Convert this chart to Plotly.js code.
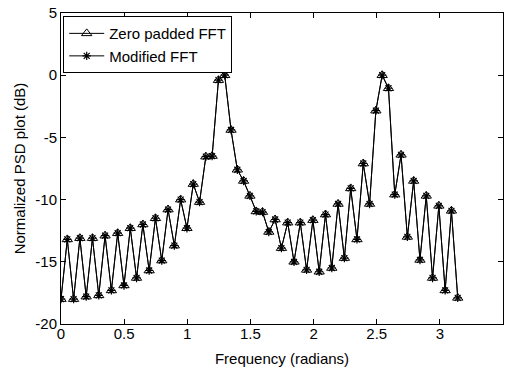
<!DOCTYPE html>
<html>
<head>
<meta charset="utf-8">
<script src="https://cdn.plot.ly/plotly-3.0.1.min.js"></script>
<style>html,body{margin:0;padding:0;background:#fff;}#chart{width:510px;height:373px;}</style>
</head>
<body>
<div id="chart"></div>
<script>
const frequency = [0, 0.0499, 0.0997, 0.1496, 0.1995, 0.2493, 0.2992, 0.3491, 0.3989, 0.4488,
  0.4987, 0.5485, 0.5984, 0.6483, 0.6981, 0.7480, 0.7979, 0.8477, 0.8976, 0.9475,
  0.9973, 1.0472, 1.0971, 1.1469, 1.1968, 1.2467, 1.2965, 1.3464, 1.3963, 1.4461,
  1.4960, 1.5459, 1.5957, 1.6456, 1.6955, 1.7453, 1.7952, 1.8451, 1.8949, 1.9448,
  1.9947, 2.0445, 2.0944, 2.1443, 2.1941, 2.2440, 2.2939, 2.3437, 2.3936, 2.4435,
  2.4933, 2.5432, 2.5931, 2.6429, 2.6928, 2.7427, 2.7925, 2.8424, 2.8923, 2.9421,
  2.9920, 3.0419, 3.0917, 3.1416];

const zeroPaddedPSD = [-18.0, -13.2, -18.0, -13.1, -17.8, -13.1, -17.7, -12.9, -17.3, -12.7,
  -16.9, -12.3, -16.3, -12.0, -15.7, -11.5, -14.9, -10.8, -13.7, -10.0,
  -12.3, -8.75, -10.2, -6.55, -6.5, -0.4, 0.0, -4.4, -7.6, -8.5,
  -9.7, -10.95, -11.0, -12.6, -11.6, -13.9, -11.85, -15.0, -11.85, -15.65,
  -11.65, -15.8, -11.2, -15.5, -10.35, -14.7, -9.1, -13.2, -7.1, -10.35,
  -2.85, 0.0, -1.05, -9.6, -6.4, -13.0, -8.5, -14.85, -9.7, -16.3,
  -10.5, -17.3, -10.9, -17.9];

const modifiedPSD = [-18.0, -13.2, -18.0, -13.1, -17.8, -13.1, -17.7, -12.9, -17.3, -12.7,
  -16.9, -12.3, -16.3, -12.0, -15.7, -11.5, -14.9, -10.8, -13.7, -10.0,
  -12.3, -8.75, -10.2, -6.55, -6.5, -0.4, 0.0, -4.4, -7.6, -8.5,
  -9.7, -10.95, -11.0, -12.6, -11.6, -13.9, -11.85, -15.0, -11.85, -15.65,
  -11.65, -15.8, -11.2, -15.5, -10.35, -14.7, -9.1, -13.2, -7.1, -10.35,
  -2.85, 0.0, -1.05, -9.6, -6.4, -13.0, -8.5, -14.85, -9.7, -16.3,
  -10.5, -17.3, -10.9, -17.9];

const seriesNames = ["Zero padded FFT", "Modified FFT"];
const xTicks = [0, 0.5, 1, 1.5, 2, 2.5, 3, 3.5];
const yTicks = [-20, -15, -10, -5, 0, 5];

const FONT = "Liberation Sans, Arial, sans-serif";

const traces = [
  {
    x: frequency, y: zeroPaddedPSD, name: seriesNames[0],
    type: "scatter", mode: "lines+markers",
    line: {color: "#000", width: 1},
    marker: {symbol: "triangle-up-open", size: 9, color: "#000", line: {color: "#000", width: 1}}
  },
  {
    x: frequency, y: modifiedPSD, name: seriesNames[1],
    type: "scatter", mode: "lines+markers",
    line: {color: "#000", width: 1},
    marker: {symbol: "asterisk-open", size: 7, color: "#000", line: {color: "#000", width: 1.2}}
  }
];

const axisCommon = {
  showgrid: false, zeroline: false,
  showline: true, linecolor: "#000", linewidth: 1, mirror: "ticks",
  ticks: "inside", ticklen: 5, tickcolor: "#000", tickwidth: 1,
  tickfont: {family: FONT, size: 15, color: "#000"}
};

const layout = {
  width: 510, height: 373,
  margin: {l: 61, r: 7, t: 13, b: 49},
  paper_bgcolor: "#fff", plot_bgcolor: "#fff",
  font: {family: FONT, size: 15, color: "#000"},
  showlegend: true,
  legend: {
    x: 0.005, y: 0.99, xanchor: "left", yanchor: "top",
    bgcolor: "#fff", bordercolor: "#000", borderwidth: 1,
    font: {family: FONT, size: 15, color: "#000"},
    tracegroupgap: 0, itemwidth: 35,
    entrywidth: 140, entrywidthmode: "pixels"
  },
  xaxis: Object.assign({}, axisCommon, {
    range: [0, 3.5], tickvals: xTicks, ticktext: xTicks.map(String),
    ticklabelstandoff: -4,
    title: {text: "Frequency (radians)", font: {family: FONT, size: 15, color: "#000"}, standoff: 12}
  }),
  yaxis: Object.assign({}, axisCommon, {
    range: [-20, 5], tickvals: yTicks, ticktext: yTicks.map(String),
    title: {text: "Normalized PSD plot (dB)", font: {family: FONT, size: 15, color: "#000"}, standoff: 6}
  })
};

Plotly.newPlot("chart", traces, layout, {displayModeBar: false, staticPlot: true});
</script>
</body>
</html>
